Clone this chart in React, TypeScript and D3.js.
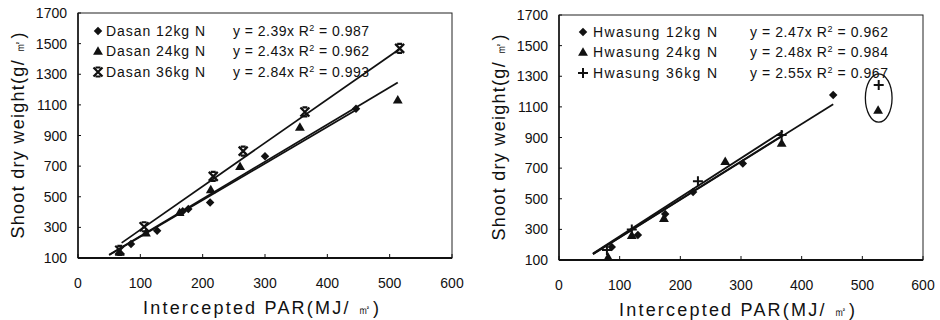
import React from 'react';
import * as d3 from 'd3';

// axis ticks shared by both panels
const xTicks = [0, 100, 200, 300, 400, 500, 600];
const yTicks = [100, 300, 500, 700, 900, 1100, 1300, 1500, 1700];

// Dasan (left panel)
const dasanNames = ['Dasan 12kg N', 'Dasan 24kg N', 'Dasan 36kg N'];
const dasanSlopes = ['2.39', '2.43', '2.84'];
const dasanR2 = ['0.987', '0.962', '0.993'];
const dasan12 = [[85, 192], [127, 278], [168, 405], [177, 420], [212, 462], [300, 765], [446, 1074]];
const dasan24 = [[67, 139], [109, 265], [163, 400], [213, 548], [260, 700], [356, 956], [513, 1134]];
const dasan36 = [[67, 150], [106, 304], [217, 633], [265, 798], [364, 1054], [516, 1469]];
const dasanFitX = [[50, 446], [50, 513], [70, 516]];

// Hwasung (right panel)
const hwNames = ['Hwasung 12kg N', 'Hwasung 24kg N', 'Hwasung 36kg N'];
const hwSlopes = ['2.47', '2.48', '2.55'];
const hwR2 = ['0.962', '0.984', '0.967'];
const hw12 = [[87, 185], [130, 263], [175, 400], [221, 544], [303, 730], [452, 1177]];
const hw24 = [[81, 120], [120, 263], [173, 374], [274, 745], [367, 864], [526, 1080]];
const hw36 = [[79, 165], [120, 300], [229, 615], [367, 916], [527, 1243]];
const hwFitX = [[56, 452], [56, 367], [56, 369]];

// circled outliers on the right panel (data units)
const hwCircle = { x: 527, y: 1158, rx: 22, ry: 158 };

const font = 'Liberation Sans, Arial, sans-serif';

// custom marker shapes for d3.symbol
const symbolCrossBar = {
  draw(ctx: any, size: number) {
    const r = Math.sqrt(size) / 2;
    const b = r * 0.55;
    ctx.moveTo(-r, -r); ctx.lineTo(r, r);
    ctx.moveTo(r, -r); ctx.lineTo(-r, r);
    ctx.moveTo(-b, -r); ctx.lineTo(b, -r);
    ctx.moveTo(-b, r); ctx.lineTo(b, r);
  }
};
const symbolPlus = {
  draw(ctx: any, size: number) {
    const r = Math.sqrt(size) / 2;
    ctx.moveTo(-r, 0); ctx.lineTo(r, 0);
    ctx.moveTo(0, -r); ctx.lineTo(0, r);
  }
};

const diamondPath = d3.symbol(d3.symbolSquare, 36)() as string;
const trianglePath = d3.symbol(d3.symbolTriangle, 42)() as string;
const crossBarPath = d3.symbol(symbolCrossBar as any, 81)() as string;
const plusPath = d3.symbol(symbolPlus as any, 100)() as string;

type Marker = 'diamond' | 'triangle' | 'crossbar' | 'plus';

function Mark({ kind, x, y }: { kind: Marker; x: number; y: number }) {
  if (kind === 'diamond') return <path d={diamondPath} transform={`translate(${x},${y}) rotate(45)`} fill="#111" />;
  if (kind === 'triangle') return <path d={trianglePath} transform={`translate(${x},${y + 1})`} fill="#111" />;
  if (kind === 'crossbar') return <path d={crossBarPath} transform={`translate(${x},${y})`} stroke="#111" strokeWidth={2.2} fill="none" />;
  return <path d={plusPath} transform={`translate(${x},${y})`} stroke="#111" strokeWidth={2} fill="none" />;
}

interface PanelProps {
  box: { left: number; right: number; top: number; bottom: number };
  series: number[][][];
  markers: Marker[];
  names: string[];
  slopes: string[];
  r2: string[];
  fitX: number[][];
  legend: { mx: number; tx: number; tw: number; ex: number; ew: number; rows: number[] };
  yTitleX: number;
  circle?: { x: number; y: number; rx: number; ry: number };
}

function Panel(p: PanelProps) {
  const { box } = p;
  const x = d3.scaleLinear().domain([0, 600]).range([box.left, box.right]);
  const y = d3.scaleLinear().domain([100, 1700]).range([box.bottom, box.top]);
  const line = d3.line<number>().x(d => x(d[0])).y(d => y(d[1]));

  return (
    <g fontFamily={font} fill="#111">
      {/* frame */}
      <rect x={box.left} y={box.top} width={box.right - box.left} height={box.bottom - box.top}
        fill="none" stroke="#222" strokeWidth={1} />
      <line x1={box.left} x2={box.right} y1={box.bottom} y2={box.bottom} stroke="#111" strokeWidth={2} />
      <line x1={box.left} x2={box.left} y1={box.top} y2={box.bottom} stroke="#111" strokeWidth={1.5} />

      {xTicks.map(t => (
        <g key={'x' + t}>
          <line x1={x(t)} x2={x(t)} y1={box.bottom} y2={box.bottom - 4} stroke="#111" />
          <text x={x(t)} y={box.bottom + 30} fontSize={14} textAnchor="middle">{t}</text>
        </g>
      ))}
      {yTicks.map(t => (
        <g key={'y' + t}>
          <line x1={box.left} x2={box.left + 3} y1={y(t)} y2={y(t)} stroke="#111" />
          <text x={box.left - 11} y={y(t) + 5} fontSize={14} textAnchor="end">{t}</text>
        </g>
      ))}

      {/* axis titles */}
      <text x={(box.left + box.right) / 2 - 4} y={box.bottom + 56} fontSize={18} textAnchor="middle"
        textLength={236} lengthAdjust="spacing">
        Intercepted PAR(MJ/ <tspan fontSize={13}>㎡</tspan>)
      </text>
      <text transform={`translate(${p.yTitleX},${(box.top + box.bottom) / 2}) rotate(-90)`} fontSize={18}
        textAnchor="middle" textLength={206} lengthAdjust="spacing">
        Shoot dry weight(g/ <tspan fontSize={13}>㎡</tspan>)
      </text>

      {/* regression lines */}
      {p.fitX.map((r, i) => (
        <path key={'f' + i} d={line([[r[0], r[0] * +p.slopes[i]], [r[1], r[1] * +p.slopes[i]]]) as string}
          stroke="#111" strokeWidth={1.8} fill="none" />
      ))}

      {/* points */}
      {p.series.map((s, i) => s.map((d, j) => (
        <Mark key={`m${i}-${j}`} kind={p.markers[i]} x={x(d[0])} y={y(d[1])} />
      )))}

      {p.circle && (
        <ellipse cx={x(p.circle.x)} cy={y(p.circle.y)} rx={x(p.circle.rx) - x(0)} ry={y(0) - y(p.circle.ry)}
          fill="none" stroke="#111" strokeWidth={1.3} />
      )}

      {/* legend */}
      {p.names.map((n, i) => {
        const cy = p.legend.rows[i];
        return (
          <g key={'l' + i}>
            <Mark kind={p.markers[i]} x={p.legend.mx} y={cy} />
            <text x={p.legend.tx} y={cy + 5} fontSize={14} textLength={p.legend.tw} lengthAdjust="spacing">{n}</text>
            <text x={p.legend.ex} y={cy + 5} fontSize={14} textLength={p.legend.ew} lengthAdjust="spacing">
              y = {p.slopes[i]}x R<tspan dy={-5} fontSize={9}>2</tspan><tspan dy={5}> = {p.r2[i]}</tspan>
            </text>
          </g>
        );
      })}
    </g>
  );
}

export default function App() {
  return (
    <svg width={940} height={320} style={{ position: 'absolute', left: 0, top: 0, background: '#fff' }}>
      <rect width={940} height={320} fill="#fff" />
      <Panel
        box={{ left: 78, right: 452, top: 13, bottom: 258 }}
        series={[dasan12, dasan24, dasan36]}
        markers={['diamond', 'triangle', 'crossbar']}
        names={dasanNames}
        slopes={dasanSlopes}
        r2={dasanR2}
        fitX={dasanFitX}
        legend={{ mx: 98, tx: 106, tw: 99, ex: 233, ew: 136, rows: [31, 51, 72] }}
        yTitleX={24}
      />
      <Panel
        box={{ left: 559, right: 923, top: 15, bottom: 260 }}
        series={[hw12, hw24, hw36]}
        markers={['diamond', 'triangle', 'plus']}
        names={hwNames}
        slopes={hwSlopes}
        r2={hwR2}
        fitX={hwFitX}
        legend={{ mx: 583, tx: 593, tw: 124, ex: 750, ew: 138, rows: [32, 52, 73] }}
        yTitleX={505}
        circle={hwCircle}
      />
    </svg>
  );
}
